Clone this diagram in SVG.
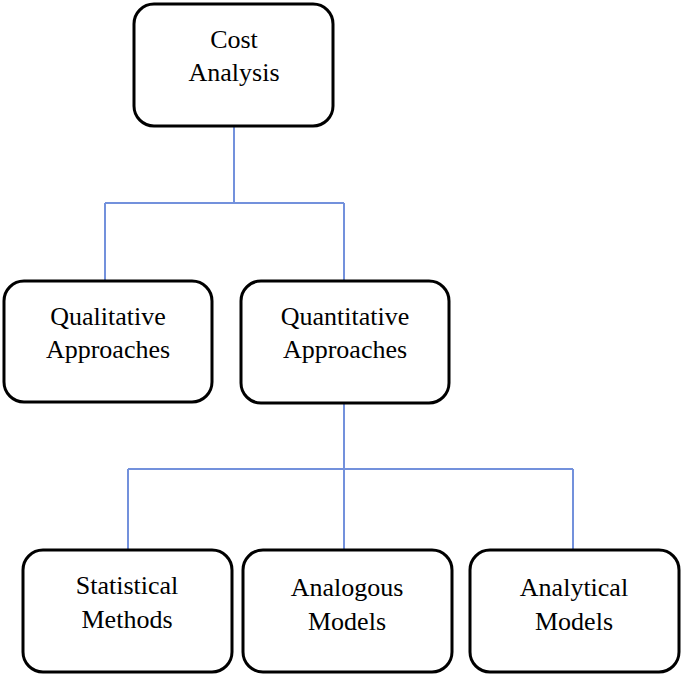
<svg xmlns="http://www.w3.org/2000/svg" width="685" height="681" viewBox="0 0 685 681">
<style>
.box{fill:#fff;stroke:#000;stroke-width:3}
.t{font-family:"Liberation Serif",serif;font-size:26px;text-anchor:middle;fill:#000}
.c{stroke:#7391dc;stroke-width:2;fill:none}
</style>
<rect width="685" height="681" fill="#fff"/>
<g id="connectors">
<path class="c" d="M234 126V203M105 203H344M105 203V280M344 203V280"/>
<path class="c" d="M344 403V469M128 469H573M128 469V549M344 469V549M573 469V549"/>
</g>
<g id="cost"><rect class="box" x="134" y="4" width="199" height="122" rx="20"/><text class="t" x="234" y="48">Cost</text><text class="t" x="234" y="81">Analysis</text></g>
<g id="qual"><rect class="box" x="4" y="281" width="208" height="121" rx="20"/><text class="t" x="108" y="325">Qualitative</text><text class="t" x="108" y="358">Approaches</text></g>
<g id="quant"><rect class="box" x="241" y="281" width="208" height="122" rx="20"/><text class="t" x="345" y="325">Quantitative</text><text class="t" x="345" y="358">Approaches</text></g>
<g id="stat"><rect class="box" x="23" y="550" width="209" height="122" rx="20"/><text class="t" x="127" y="594">Statistical</text><text class="t" x="127" y="628">Methods</text></g>
<g id="analog"><rect class="box" x="243" y="550" width="209" height="122" rx="20"/><text class="t" x="347" y="596">Analogous</text><text class="t" x="347" y="630">Models</text></g>
<g id="analyt"><rect class="box" x="470" y="550" width="209" height="122" rx="20"/><text class="t" x="574" y="596">Analytical</text><text class="t" x="574" y="630">Models</text></g>
</svg>
